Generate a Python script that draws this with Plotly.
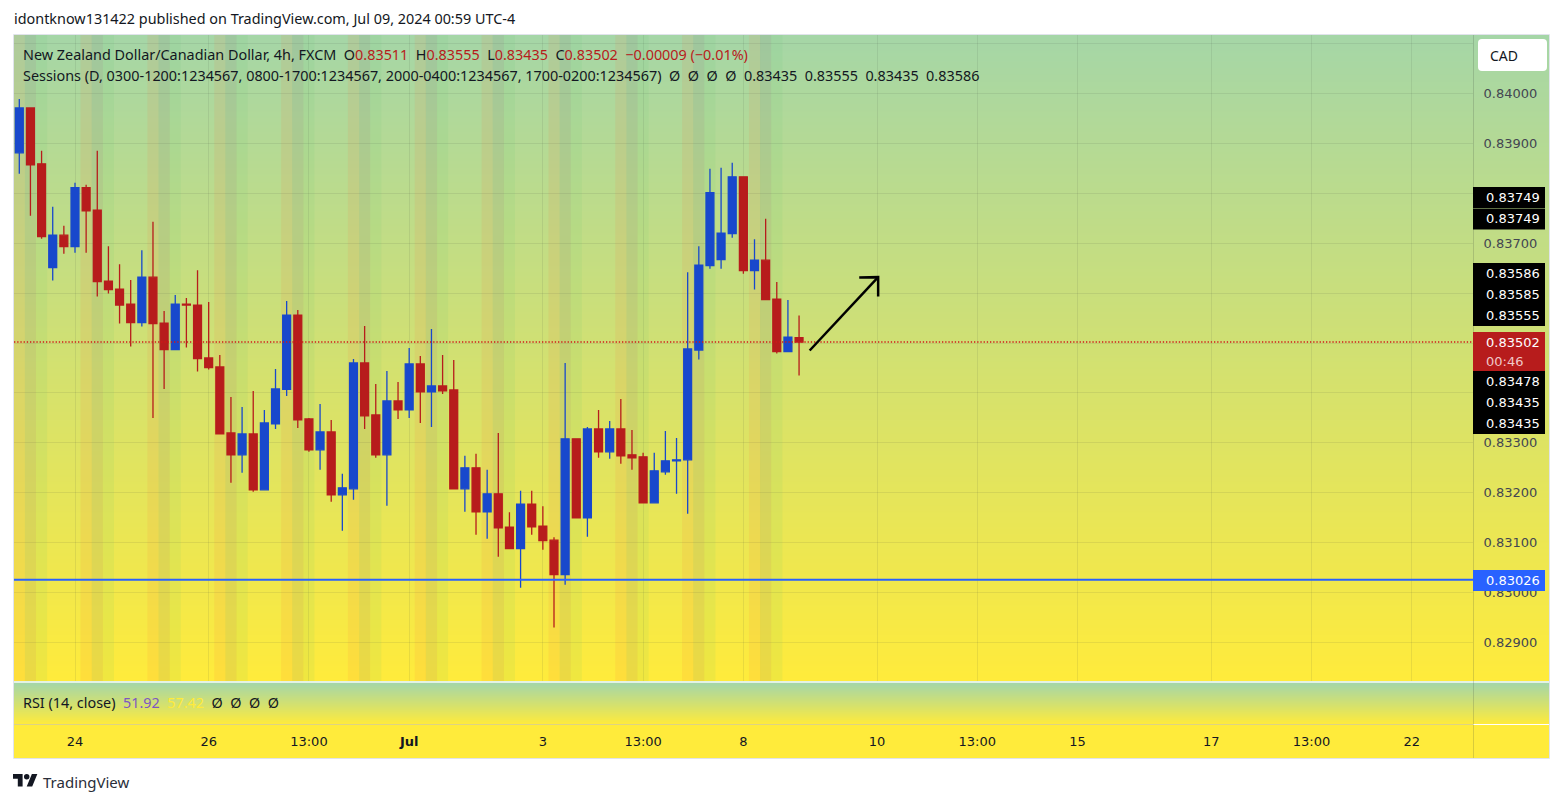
import plotly.graph_objects as go

W, H = 1563, 803

# --- candle data ---
opens = [.83881,.83971,.83859,.83651,.83716,.83693,.83811,.83766,.83624,.83608,.83578,.83541,.83632,.83540,.83487,.83578,.83576,.83470,.83452,.83320,
         .83276,.83318,.83206,.83338,.83407,.83556,.83348,.83286,.83322,.83196,.83208,.83460,.83356,.83276,.83384,.83366,.83458,.83402,.83414,.83406,
         .83208,.83250,.83162,.83198,.83131,.83088,.83177,.83133,.83105,.83036,.83308,.83150,.83328,.83282,.83328,.83276,.83272,.83180,.83242,.83264,
         .83266,.83486,.83655,.83667,.83719,.83833,.83645,.83666,.83588,.83483,.83511]
highs = [.83989,.83972,.83885,.83773,.83735,.83821,.83817,.83885,.83694,.83658,.83626,.83686,.83743,.83564,.83596,.83590,.83646,.83582,.83476,.83392,
         .83372,.83404,.83366,.83448,.83584,.83566,.83350,.83378,.83346,.83238,.83468,.83534,.83418,.83444,.83422,.83490,.83474,.83528,.83476,.83466,
         .83274,.83278,.83246,.83320,.83161,.83204,.83204,.83173,.83111,.83460,.83308,.83332,.83366,.83344,.83388,.83326,.83280,.83280,.83324,.83310,
         .83642,.83694,.83849,.83851,.83861,.83833,.83708,.83749,.83622,.83586,.83555]
lows = [.83839,.83755,.83709,.83625,.83679,.83681,.83681,.83593,.83599,.83539,.83493,.83533,.83350,.83408,.83487,.83491,.83443,.83447,.83318,.83220,
        .83240,.83202,.83206,.83328,.83394,.83330,.83282,.83246,.83182,.83124,.83186,.83328,.83270,.83174,.83348,.83350,.83340,.83332,.83398,.83208,
        .83162,.83116,.83108,.83072,.83088,.83010,.83116,.83086,.82930,.83016,.83150,.83112,.83270,.83268,.83258,.83246,.83180,.83180,.83236,.83198,
        .83158,.83467,.83649,.83649,.83711,.83639,.83607,.83587,.83479,.83483,.83435]
closes = [.83971,.83857,.83713,.83716,.83693,.83811,.83765,.83623,.83607,.83576,.83541,.83632,.83539,.83487,.83578,.83576,.83469,.83451,.83318,.83276,
          .83318,.83206,.83340,.83408,.83556,.83346,.83286,.83322,.83196,.83210,.83460,.83354,.83276,.83384,.83366,.83458,.83402,.83414,.83404,.83208,
          .83250,.83162,.83198,.83130,.83088,.83177,.83132,.83104,.83036,.83308,.83150,.83328,.83282,.83328,.83274,.83270,.83180,.83244,.83264,.83266,
          .83488,.83656,.83801,.83720,.83833,.83645,.83666,.83587,.83483,.83512,.83502]
bar_index = list(range(len(opens)))

session_a = [0,6,12,18,24,30,36,42,48,54,60,66]
session_b = [1,7,13,19,25,31,37,43,49,55,61,67]
session_c = [2,8,14,20,26,32,38,44,50,56,62,68]

time_ticks = [5,17,26,35,47,56,65,77,86,95,107,116,125]
time_labels = ["24","26","13:00","<b>Jul</b>","3","13:00","8","10","13:00","15","17","13:00","22"]

# grid levels; the ones hidden behind the reference's price tags carry no text
price_ticks = [.841,.840,.839,.838,.837,.836,.835,.834,.833,.832,.831,.830,.829]
price_tick_labels = ["","0.84000","0.83900","","0.83700","","","","0.83300","0.83200","0.83100","0.83000","0.82900"]

last_price = 0.83502
support_price = 0.83026
arrow_x = [70.95,77.1,None,75.4,77.1,77.1]
arrow_y = [.83485,.83632,None,.83631,.83632,.83593]

price_min, price_max = 0.82823, 0.84117
bar_min, bar_max = -0.476, 130.5

black_labels = [("0.83749",197.5),("0.83749",219),("0.83586",273.5),("0.83585",294.5),("0.83555",315.5),
                ("0.83478",381.5),("0.83435",402.5),("0.83435",423.5)]

GREEN, YELLOW = "#A5D6A7", "#FFEB3B"
INK = "#131722"
RED, BLUE = "#B71C1C", "#1848CC"
GRID = "rgba(60,70,60,0.10)"
FONT = "DejaVu Sans"
FS = 13
LEGEND_FONT = "Noto Sans"
LFS = 14.4


def fx(p):
    return p / W


def fy(p):
    return 1 - p / H


fig = go.Figure()

scale = [[0, GREEN], [1, YELLOW]]
for xa, ya in (("x", "y"), ("x2", "y2")):
    fig.add_trace(go.Heatmap(x=[0, 1], y=[0, 1], z=[[1, 1], [0, 0]], colorscale=scale, zsmooth="best",
                             showscale=False, hoverinfo="skip", xaxis=xa, yaxis=ya))

span = price_max - price_min
for xs, c in ((session_a, "rgba(255,110,60,0.10)"), (session_b, "rgba(120,110,110,0.14)"), (session_c, "rgba(90,200,110,0.09)")):
    fig.add_trace(go.Bar(x=xs, y=[span] * len(xs), base=price_min, width=1, marker=dict(color=c, line=dict(width=0)),
                         hoverinfo="skip", xaxis="x3", yaxis="y3"))

fig.add_trace(go.Candlestick(x=bar_index, open=opens, high=highs, low=lows, close=closes, whiskerwidth=0,
                             increasing=dict(line=dict(color=BLUE, width=1.3), fillcolor=BLUE),
                             decreasing=dict(line=dict(color=RED, width=1.3), fillcolor=RED),
                             hoverinfo="skip", xaxis="x3", yaxis="y3"))

fig.add_trace(go.Scatter(x=[bar_min, bar_max], y=[last_price, last_price], mode="lines",
                         line=dict(color="#D01818", width=1.3, dash="1.3px 1.9px"), hoverinfo="skip", xaxis="x3", yaxis="y3"))
fig.add_trace(go.Scatter(x=[bar_min, bar_max], y=[support_price, support_price], mode="lines",
                         line=dict(color="#2962FF", width=2), hoverinfo="skip", xaxis="x3", yaxis="y3"))
fig.add_trace(go.Scatter(x=arrow_x, y=arrow_y, mode="lines", line=dict(color="#000000", width=2.5), hoverinfo="skip",
                         xaxis="x3", yaxis="y3"))

hidden = dict(visible=False, fixedrange=True, automargin=False)
fig.update_layout(
    width=W, height=H, margin=dict(l=0, r=0, t=0, b=0, autoexpand=False), paper_bgcolor="#FFFFFF", plot_bgcolor="rgba(0,0,0,0)",
    showlegend=False, hovermode=False, barmode="overlay", boxgap=0.29, boxgroupgap=0, font=dict(family=FONT, color=INK, size=FS),
    xaxis=dict(domain=[fx(14), fx(1549)], range=[0, 1], **hidden),
    yaxis=dict(domain=[fy(681), fy(35)], range=[0, 1], **hidden),
    xaxis2=dict(domain=[fx(14), fx(1549)], range=[0, 1], **hidden),
    yaxis2=dict(domain=[fy(724), fy(683)], range=[0, 1], **hidden),
    xaxis3=dict(domain=[fx(14), fx(1473)], range=[bar_min, bar_max], anchor="y3", tickmode="array", tickvals=time_ticks,
                ticktext=time_labels, showgrid=True, gridcolor=GRID, gridwidth=1, zeroline=False, showline=False,
                ticks="outside", ticklen=48, tickcolor="rgba(0,0,0,0)", tickfont=dict(family=FONT, size=FS, color=INK),
                rangeslider=dict(visible=False), fixedrange=True, automargin=False),
    yaxis3=dict(domain=[fy(681), fy(35)], range=[price_min, price_max], anchor="x3", side="right", tickmode="array",
                tickvals=price_ticks, ticktext=price_tick_labels, showgrid=True, gridcolor=GRID, gridwidth=1, zeroline=False,
                showline=False, ticks="outside", ticklen=7, tickcolor="rgba(0,0,0,0)",
                tickfont=dict(family=FONT, size=FS, color="#434651"), fixedrange=True, automargin=False),
)

shapes = []


def rect(x0, y0, x1, y1, fill, line=None, layer="above"):
    shapes.append(dict(type="rect", xref="paper", yref="paper", x0=fx(x0), x1=fx(x1), y0=fy(y1), y1=fy(y0),
                       fillcolor=fill, line=dict(width=0) if line is None else dict(color=line, width=1), layer=layer))


def hline(x0, x1, y, c):
    shapes.append(dict(type="line", xref="paper", yref="paper", x0=fx(x0), x1=fx(x1), y0=fy(y), y1=fy(y),
                       line=dict(color=c, width=1), layer="above"))


def vline(x, y0, y1, c):
    shapes.append(dict(type="line", xref="paper", yref="paper", x0=fx(x), x1=fx(x), y0=fy(y0), y1=fy(y1),
                       line=dict(color=c, width=1), layer="above"))


rect(14, 724.5, 1549, 758, YELLOW, layer="below")
hline(14, 1549, 682, "#C8E6C9")
hline(14, 1473, 724.5, "rgba(120,110,60,0.25)")
hline(1473, 1549, 724.5, "#FFFFFF")
vline(1473.5, 35, 758, "rgba(60,70,60,0.2)")
rect(13.5, 34.5, 1549.5, 758.5, "rgba(0,0,0,0)", line="#E0E3EB")

annotations = []


def text(s, x, y, color=INK, size=FS, anchor="left", family=FONT):
    annotations.append(dict(text=s, xref="paper", yref="paper", x=fx(x), y=fy(y), xanchor=anchor, yanchor="middle",
                            showarrow=False, borderpad=0, align="left", font=dict(family=family, size=size, color=color)))


for label, yc in black_labels:
    rect(1473, yc - 10.5, 1545, yc + 10.5, "#000000")
    text(label, 1484.5, yc, "#FFFFFF")
rect(1473, 332, 1545, 371, RED)
text("0.83502", 1484.5, 342.5, "#FFFFFF")
text("00:46", 1484.5, 361, "#F0C8C8")
rect(1473, 570, 1545, 591, "#2962FF")
text("0.83026", 1484.5, 580.5, "#FFFFFF")

cx0, cx1, cy0, cy1 = fx(1478), fx(1547), fy(39), fy(71)
rx, ry = fx(4), 4 / H
shapes.append(dict(type="path", xref="paper", yref="paper", fillcolor="#FFFFFF", line=dict(width=0), layer="above",
                   path=(f"M {cx0 + rx} {cy0} L {cx1 - rx} {cy0} Q {cx1} {cy0} {cx1} {cy0 - ry} L {cx1} {cy1 + ry} "
                         f"Q {cx1} {cy1} {cx1 - rx} {cy1} L {cx0 + rx} {cy1} Q {cx0} {cy1} {cx0} {cy1 + ry} "
                         f"L {cx0} {cy0 - ry} Q {cx0} {cy0} {cx0 + rx} {cy0} Z")))
text("CAD", 1489, 55, INK, 14, family=LEGEND_FONT)

N = "\u00a0"
def red(s):
    return f'<span style="color:{RED}">{s}</span>'

text("idontknow131422 published on TradingView.com, Jul 09, 2024 00:59 UTC-4", 12.5, 19, size=LFS, family=LEGEND_FONT)
text(f"New Zealand Dollar/Canadian Dollar, 4h, FXCM{N}{N}O{red('0.83511')}{N}{N}H{red('0.83555')}{N}{N}L{red('0.83435')}{N}{N}C{red('0.83502')}{N}{N}{red(f'−0.00009{N}(−0.01%)')}", 22, 54, size=LFS, family=LEGEND_FONT)
text(f"Sessions (D, 0300-1200:1234567, 0800-1700:1234567, 2000-0400:1234567, 1700-0200:1234567){N}{N}Ø{N}{N}Ø{N}{N}Ø{N}{N}Ø{N}{N}0.83435{N}{N}0.83555{N}{N}0.83435{N}{N}0.83586", 22, 75, size=LFS, family=LEGEND_FONT)
text(f'RSI (14, close){N}{N}<span style="color:#7E57C2">51.92</span>{N}{N}<span style="color:#FFEB3B">57.42</span>{N}{N}Ø{N}{N}Ø{N}{N}Ø{N}{N}Ø', 22, 702, size=LFS, family=LEGEND_FONT)
text("TradingView", 42, 781.5, "#2A2E39", 15, family=LEGEND_FONT)

# TradingView logo
k = 24.7 / 36
lx, ly = 13, 771.3
def lp(x, y):
    return f"{fx(lx + k * x)} {fy(ly + k * y)}"
logo = (f"M {lp(14,22)} L {lp(7,22)} L {lp(7,11)} L {lp(0,11)} L {lp(0,4)} L {lp(14,4)} Z "
        f"M {lp(28,22)} L {lp(20,22)} L {lp(27.5,4)} L {lp(35.5,4)} Z "
        f"M {lp(16,8)} Q {lp(16,4)} {lp(20,4)} Q {lp(24,4)} {lp(24,8)} Q {lp(24,12)} {lp(20,12)} Q {lp(16,12)} {lp(16,8)} Z")
shapes.append(dict(type="path", xref="paper", yref="paper", path=logo, fillcolor=INK, line=dict(width=0), layer="above"))

fig.update_layout(shapes=shapes, annotations=annotations)
fig.write_html("out.html", config=dict(displayModeBar=False),
               post_script="document.body.style.margin='0';document.body.style.overflow='hidden';")
